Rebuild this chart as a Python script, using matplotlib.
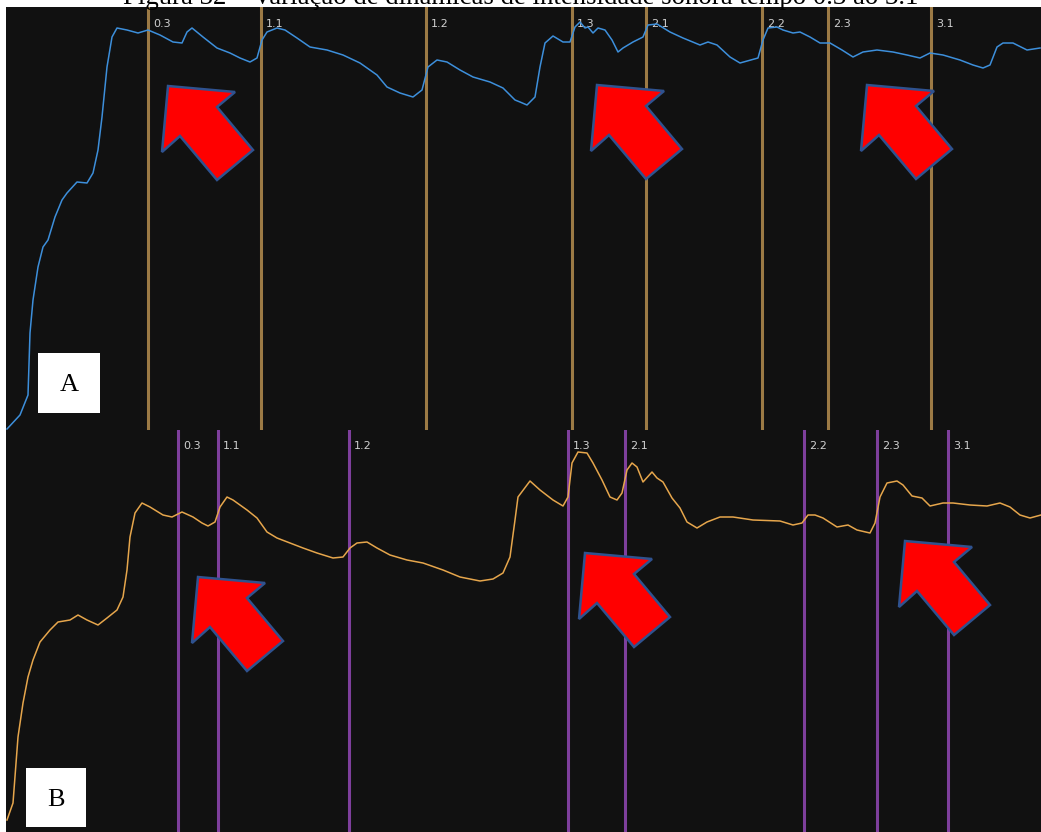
import matplotlib
matplotlib.use("Agg")
import matplotlib.pyplot as plt
from matplotlib.patches import Polygon, Rectangle

# --- dados (coordenadas em pixels do painel) ---
titulo = "Figura 32 – Variação de dinâmicas de intensidade sonora tempo 0.3 ao 3.1"
marcas = ["0.3", "1.1", "1.2", "1.3", "2.1", "2.2", "2.3", "3.1"]

marcas_a = [148, 261, 426, 572, 646, 762, 828, 931]
marcas_b = [178, 218, 349, 568, 625, 804, 877, 948]

curva_a_x = [7, 20, 28, 30, 33, 38, 43, 48, 55, 62, 67, 77, 87, 93, 98, 102, 107, 112,
             117, 127, 138, 148, 160, 173, 182, 187, 192, 203, 217, 230, 240, 250, 257,
             262, 267, 277, 285, 297, 310, 327, 343, 360, 377, 387, 400, 413, 422, 428,
             437, 447, 460, 473, 490, 503, 515, 520, 527, 535, 540, 545, 553, 563, 570,
             575, 580, 585, 588, 593, 598, 605, 612, 618, 623, 633, 643, 648, 657, 670,
             683, 700, 708, 717, 730, 740, 758, 763, 768, 777, 783, 793, 800, 810, 820,
             830, 842, 853, 863, 877, 893, 907, 920, 930, 943, 960, 973, 983, 990, 997,
             1003, 1013, 1027, 1040]
curva_a_y = [429, 415, 395, 333, 300, 267, 247, 240, 217, 200, 193, 182, 183, 173, 150,
             117, 67, 37, 28, 30, 33, 30, 35, 42, 43, 32, 28, 37, 48, 53, 58, 62, 58, 40,
             32, 28, 30, 38, 47, 50, 55, 63, 75, 87, 93, 97, 90, 67, 60, 62, 70, 77, 82,
             88, 100, 102, 105, 97, 67, 43, 36, 42, 42, 27, 22, 28, 27, 33, 28, 30, 40, 52,
             48, 42, 37, 25, 24, 32, 38, 45, 42, 45, 57, 63, 58, 40, 28, 27, 30, 33, 32,
             37, 43, 43, 50, 57, 52, 50, 52, 55, 58, 53, 55, 60, 65, 68, 65, 47, 43, 43,
             50, 48]

curva_b_x = [7, 13, 18, 23, 28, 33, 40, 50, 58, 70, 78, 87, 98, 107, 117, 123, 127, 130,
             135, 142, 150, 163, 172, 182, 193, 202, 208, 215, 220, 227, 233, 247, 257,
             267, 277, 290, 303, 317, 333, 343, 350, 357, 367, 377, 390, 407, 423, 443,
             460, 480, 493, 503, 510, 515, 518, 530, 540, 553, 563, 568, 572, 578, 587,
             593, 602, 610, 617, 622, 627, 632, 637, 643, 652, 657, 663, 672, 680, 687,
             697, 707, 720, 733, 753, 780, 793, 802, 808, 815, 823, 837, 848, 857, 870,
             875, 880, 887, 897, 903, 912, 922, 930, 943, 953, 970, 987, 1000, 1010,
             1020, 1030, 1041]
curva_b_y = [820, 803, 737, 703, 677, 660, 642, 630, 622, 620, 615, 620, 625, 618, 610,
             597, 570, 537, 513, 503, 507, 515, 517, 512, 517, 523, 526, 522, 507, 497,
             500, 510, 518, 532, 538, 543, 548, 553, 558, 557, 548, 543, 542, 548, 555,
             560, 563, 570, 577, 581, 579, 573, 557, 520, 497, 481, 490, 500, 506, 497,
             463, 452, 453, 463, 480, 497, 500, 493, 470, 463, 467, 482, 472, 478, 482,
             498, 508, 522, 528, 522, 517, 517, 520, 521, 525, 523, 515, 515, 518, 527,
             525, 530, 533, 523, 497, 483, 481, 485, 496, 498, 506, 503, 503, 505, 506,
             503, 507, 515, 518, 515]

# pontas das setas vermelhas
setas_a = [(168, 86), (597, 85), (867, 85)]
setas_b = [(198, 577), (585, 553), (905, 541)]
forma_seta = [(0, 0), (67, 6), (49, 21), (85, 64), (49, 94), (12, 50), (-6, 66)]

W, H = 1041, 832
fig = plt.figure(figsize=(W / 100, H / 100), dpi=100)
fig.patch.set_facecolor("white")

fundo = "#111111"


def painel(y0, y1, letra, caixa, linhas, cor_linha, cx, cy, cor_curva, setas, y_label):
    ax = fig.add_axes([6 / W, 1 - y1 / H, (W - 6) / W, (y1 - y0) / H])
    ax.set_facecolor(fundo)
    ax.set_xlim(6, W)
    ax.set_ylim(y1, y0)
    ax.axis("off")
    ax.add_patch(Rectangle((6, y0), W - 6, y1 - y0, facecolor=fundo, edgecolor="none", zorder=0))
    for xm, txt in zip(linhas, marcas):
        ax.axvline(xm, color=cor_linha, lw=2.2, zorder=2)
        ax.text(xm + 5, y_label, txt, color="#d0d0d0", fontsize=8,
                family="DejaVu Sans", va="center", ha="left", zorder=3)
    ax.plot(cx, cy, color=cor_curva, lw=1.1, zorder=4)
    for tx, ty in setas:
        pts = [(tx + dx, ty + dy) for dx, dy in forma_seta]
        ax.add_patch(Polygon(pts, closed=True, facecolor="#ff0000",
                             edgecolor="#2f528f", lw=1.8, zorder=5))
    bx0, by0, bx1, by1 = caixa
    ax.add_patch(Rectangle((bx0, by0), bx1 - bx0, by1 - by0, facecolor="white",
                           edgecolor="none", zorder=6))
    ax.text((bx0 + bx1) / 2, (by0 + by1) / 2 + 2, letra, fontsize=19,
            family="Liberation Serif", ha="center", va="center", zorder=7)
    return ax


painel(7, 430, "A", (38, 353, 100, 413), marcas_a, "#9c7a45",
       curva_a_x, curva_a_y, "#3d8fdb", setas_a, 24)
painel(430, 832, "B", (26, 768, 86, 827), marcas_b, "#7e3f9c",
       curva_b_x, curva_b_y, "#e6a64c", setas_b, 446)

fig.text(0.5, 1 - 4.5 / H, titulo, ha="center", va="baseline",
         family="Liberation Serif", fontsize=19.3, color="black")

fig.savefig("out.png", dpi=100, facecolor="white")
